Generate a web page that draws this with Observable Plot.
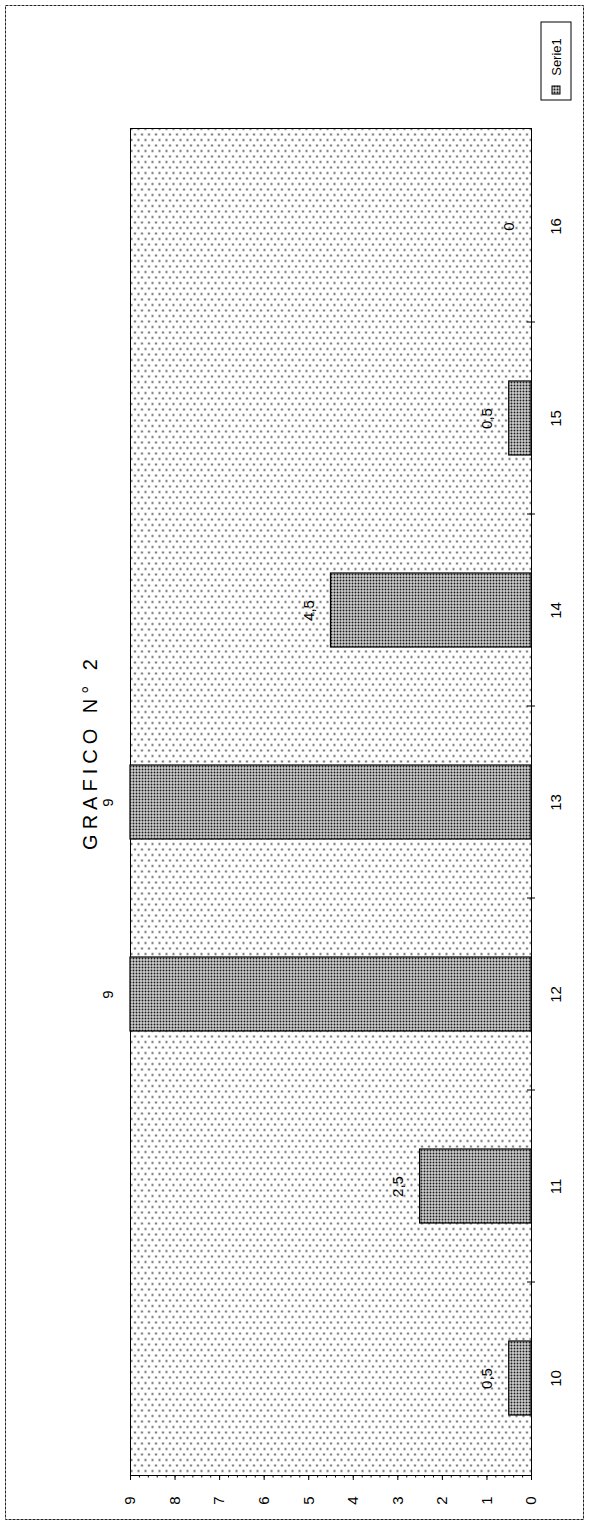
<!DOCTYPE html>
<html>
<head>
<meta charset="utf-8">
<script src="https://cdn.jsdelivr.net/npm/d3@7"></script>
<script src="https://cdn.jsdelivr.net/npm/@observablehq/plot@0.6"></script>
<style>
  body { margin: 0; background: #fff; }
  #chart { width: 589px; height: 1525px; }
  [aria-label="chart-title"], g[aria-label="chart-title"] text { letter-spacing: 5px; }
</style>
</head>
<body>
<div id="chart"></div>
<script>
// ---- data ----
const categories = ["10", "11", "12", "13", "14", "15", "16"];
const values = [0.5, 2.5, 9, 9, 4.5, 0.5, 0];
const valueLabels = ["0,5", "2,5", "9", "9", "4,5", "0,5", "0"];
const valueTicks = [0, 1, 2, 3, 4, 5, 6, 7, 8, 9];
const valueTickLabels = ["0", "1", "2", "3", "4", "5", "6", "7", "8", "9"];
const chartTitle = "GRAFICO N° 2";
const seriesName = "Serie1";

const data = categories.map((c, i) => ({cat: c, value: values[i], label: valueLabels[i]}));
const tickData = valueTicks.map((v, i) => ({v, label: valueTickLabels[i]}));

// ---- pattern definitions ----
function defsMark() {
  const defs = d3.create("svg:defs");
  const bg = defs.append("pattern").attr("id", "bgDots")
    .attr("patternUnits", "userSpaceOnUse").attr("width", 7).attr("height", 11);
  bg.append("rect").attr("width", 7).attr("height", 11).attr("fill", "#fff");
  bg.append("circle").attr("cx", 1.5).attr("cy", 2).attr("r", 0.9).attr("fill", "#222");
  bg.append("circle").attr("cx", 5).attr("cy", 7.5).attr("r", 0.9).attr("fill", "#222");
  const bar = defs.append("pattern").attr("id", "barDots")
    .attr("patternUnits", "userSpaceOnUse").attr("width", 3).attr("height", 3);
  bar.append("rect").attr("width", 3).attr("height", 3).attr("fill", "#cfcfcf");
  bar.append("circle").attr("cx", 1.5).attr("cy", 1.5).attr("r", 0.95).attr("fill", "#1a1a1a");
  return defs.node();
}

// ---- band boundary ticks on the right edge ----
function boundaryTicks(index, scales, values, dims) {
  const y = scales.y;
  let bw, step;
  if (y && typeof y.bandwidth === "function") { bw = y.bandwidth(); step = y.step(); }
  else if (scales.scales && scales.scales.y) {
    const d = scales.scales.y;
    bw = typeof d.bandwidth === "number" ? d.bandwidth : d.scale.bandwidth();
    step = typeof d.step === "number" ? d.step : d.scale.step();
  }
  const xr = dims.width - dims.marginRight;
  const g = d3.create("svg:g").attr("stroke", "#000");
  const yfn = (typeof y === "function") ? y : (v) => scales.scales.y.apply(v);
  categories.slice(0, -1).forEach(c => {
    const yy = yfn(c) - (step - bw) / 2; // boundary above each band (except top)
    g.append("line").attr("x1", xr - 4).attr("x2", xr + 4).attr("y1", yy).attr("y2", yy);
  });
  return g.node();
}

// ---- outer border and legend ----
function borderAndLegend(index, scales, values, dims) {
  const g = d3.create("svg:g");
  g.append("rect").attr("x", 5.5).attr("y", 5.5)
    .attr("width", dims.width - 11).attr("height", dims.height - 11)
    .attr("fill", "none").attr("stroke", "#222").attr("stroke-dasharray", "3,1");
  const lg = g.append("g").attr("transform", `translate(${dims.width - 48},22)`);
  lg.append("rect").attr("width", 30).attr("height", 78).attr("fill", "#fff").attr("stroke", "#000");
  lg.append("rect").attr("x", 11).attr("y", 64).attr("width", 8).attr("height", 8)
    .attr("fill", "url(#barDots)").attr("stroke", "#000");
  lg.append("text").attr("transform", "translate(15,35) rotate(-90)")
    .attr("text-anchor", "middle").attr("dy", "0.35em")
    .attr("font-size", 13).attr("fill", "#000").text(seriesName);
  return g.node();
}

const textBase = {textAnchor: "middle", lineAnchor: "middle", rotate: -90, fill: "#000"};

const chart = Plot.plot({
  width: 589,
  height: 1525,
  marginLeft: 130,
  marginRight: 58,
  marginTop: 128,
  marginBottom: 50,
  style: {fontFamily: "'Liberation Sans', Arial, sans-serif", background: "#fff", color: "#000"},
  x: {domain: [0, 9], reverse: true, axis: null, label: null},
  y: {domain: categories.slice().reverse(), paddingInner: 0.615, paddingOuter: 0.31, axis: null, label: null},
  marks: [
    defsMark,
    Plot.frame({fill: "url(#bgDots)", stroke: "#000"}),
    Plot.barX(data, {x: "value", y: "cat", fill: "url(#barDots)", stroke: "#000", strokeWidth: 1.2}),
    Plot.axisX({anchor: "bottom", ticks: valueTicks, tickSize: 5, tickFormat: () => "", label: null}),
    Plot.axisX({anchor: "bottom", ticks: 45, tickSize: 2.5, tickFormat: () => "", label: null}),
    boundaryTicks,
    Plot.text(tickData, {...textBase, x: "v", text: "label", frameAnchor: "bottom", dy: 25, fontSize: 15}),
    Plot.text(categories, {...textBase, y: d => d, text: d => d, frameAnchor: "right", dx: 25, fontSize: 15}),
    Plot.text(data, {...textBase, x: "value", y: "cat", text: "label", dx: -22, fontSize: 15}),
    Plot.text([chartTitle], {...textBase, text: d => d, frameAnchor: "left", dx: -40, dy: -50, fontSize: 20, ariaLabel: () => "chart-title"}),
    borderAndLegend
  ]
});

document.getElementById("chart").appendChild(chart);
</script>
</body>
</html>
